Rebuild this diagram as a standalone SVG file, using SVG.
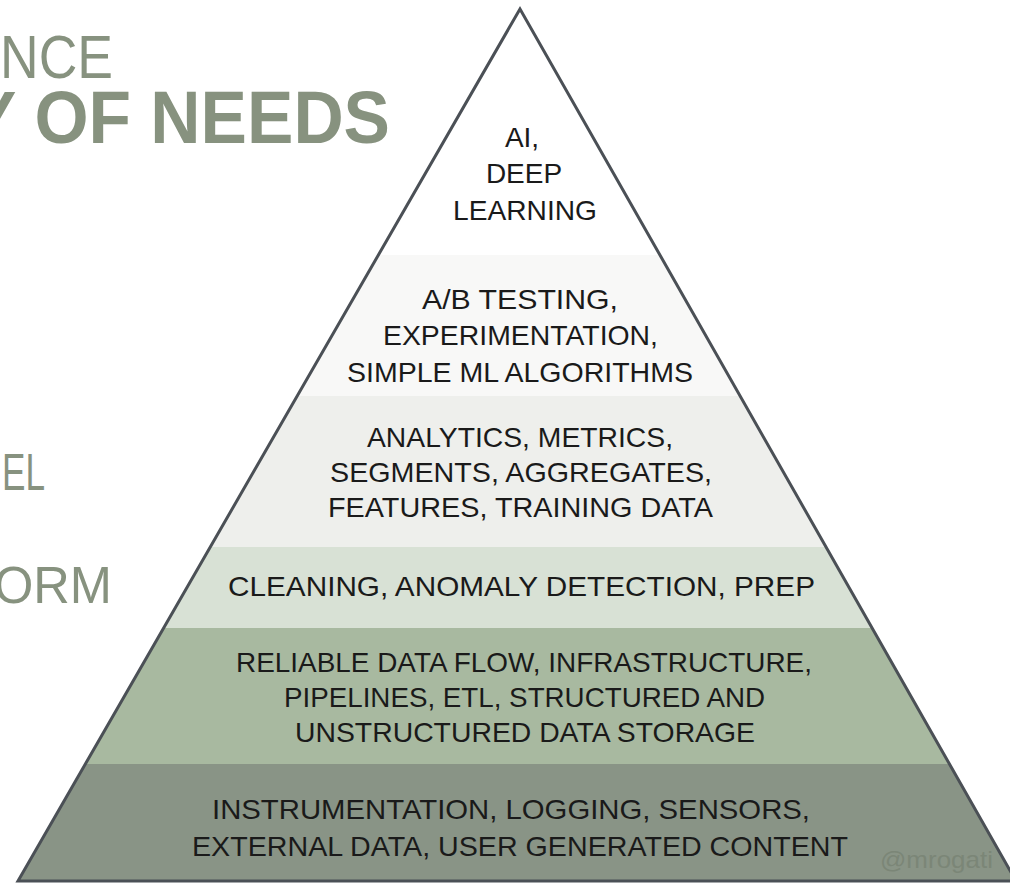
<svg xmlns="http://www.w3.org/2000/svg" width="1010" height="883" viewBox="0 0 1010 883">
<style>
.t{font-family:"Liberation Sans",Arial,sans-serif;font-size:28px;fill:#1a1a1a;text-anchor:middle}
.side{font-family:"Liberation Sans",Arial,sans-serif;fill:#87927f}
.wm{font-family:"Liberation Sans",Arial,sans-serif;font-size:24px;fill:#7b8677}
</style>
<defs>
<clipPath id="tri"><polygon points="520,9 18,881 1016,881"/></clipPath>
</defs>
<rect width="1010" height="883" fill="#ffffff"/>
<g id="title">
<text class="side" x="113" y="78" font-size="62" text-anchor="end" textLength="113" lengthAdjust="spacingAndGlyphs">NCE</text>
<text class="side" x="390" y="143" font-size="74" font-weight="bold" text-anchor="end" textLength="420" lengthAdjust="spacingAndGlyphs">Y OF NEEDS</text>
<text class="side" x="45" y="490" font-size="51" text-anchor="end" textLength="43" lengthAdjust="spacingAndGlyphs">EL</text>
<text class="side" x="112" y="603" font-size="51" text-anchor="end" textLength="118" lengthAdjust="spacingAndGlyphs">ORM</text>
</g>
<g id="pyramid" clip-path="url(#tri)">
<rect id="band1" x="0" y="0" width="1010" height="255" fill="#ffffff"/>
<rect id="band2" x="0" y="255" width="1010" height="141" fill="#f8f8f7"/>
<rect id="band3" x="0" y="396" width="1010" height="151" fill="#eeefec"/>
<rect id="band4" x="0" y="547" width="1010" height="81" fill="#d8e1d5"/>
<rect id="band5" x="0" y="628" width="1010" height="136" fill="#a8b9a0"/>
<rect id="band6" x="0" y="764" width="1010" height="119" fill="#899486"/>
</g>
<polygon id="outline" points="520,9 18,881 1016,881" fill="none" stroke="#4b5056" stroke-width="3" stroke-linejoin="miter"/>
<g id="level1">
<text class="t" x="522" y="147">AI,</text>
<text class="t" x="524" y="183">DEEP</text>
<text class="t" x="525" y="220" textLength="144" lengthAdjust="spacingAndGlyphs">LEARNING</text>
</g>
<g id="level2">
<text class="t" x="520" y="309" textLength="196" lengthAdjust="spacingAndGlyphs">A/B TESTING,</text>
<text class="t" x="520.5" y="345" textLength="275" lengthAdjust="spacingAndGlyphs">EXPERIMENTATION,</text>
<text class="t" x="520" y="382" textLength="346" lengthAdjust="spacingAndGlyphs">SIMPLE ML ALGORITHMS</text>
</g>
<g id="level3">
<text class="t" x="520" y="447" textLength="306" lengthAdjust="spacingAndGlyphs">ANALYTICS, METRICS,</text>
<text class="t" x="521" y="482" textLength="382" lengthAdjust="spacingAndGlyphs">SEGMENTS, AGGREGATES,</text>
<text class="t" x="520.5" y="517" textLength="385" lengthAdjust="spacingAndGlyphs">FEATURES, TRAINING DATA</text>
</g>
<g id="level4">
<text class="t" x="521.5" y="596" textLength="587" lengthAdjust="spacingAndGlyphs">CLEANING, ANOMALY DETECTION, PREP</text>
</g>
<g id="level5">
<text class="t" x="524" y="672" textLength="576" lengthAdjust="spacingAndGlyphs">RELIABLE DATA FLOW, INFRASTRUCTURE,</text>
<text class="t" x="524.5" y="707" textLength="481" lengthAdjust="spacingAndGlyphs">PIPELINES, ETL, STRUCTURED AND</text>
<text class="t" x="525" y="742" textLength="460" lengthAdjust="spacingAndGlyphs">UNSTRUCTURED DATA STORAGE</text>
</g>
<g id="level6">
<text class="t" x="511" y="819" textLength="598" lengthAdjust="spacingAndGlyphs">INSTRUMENTATION, LOGGING, SENSORS,</text>
<text class="t" x="520" y="856" textLength="656" lengthAdjust="spacingAndGlyphs">EXTERNAL DATA, USER GENERATED CONTENT</text>
<text class="wm" x="880" y="868" textLength="113" lengthAdjust="spacingAndGlyphs">@mrogati</text>
</g>
</svg>
